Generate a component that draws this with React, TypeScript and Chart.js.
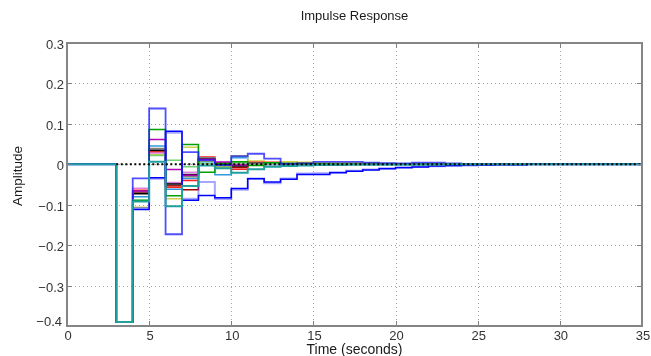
import React, { useEffect, useRef } from 'react';
import { Chart, registerables } from 'chart.js';

Chart.register(...registerables);

// ---- data ----
const TIME = [0, 1, 2, 3, 4, 5, 6, 7, 8, 9, 10, 11, 12, 13, 14, 15, 16, 17, 18, 19, 20, 21, 22, 23, 24, 25, 26, 27, 28, 29, 30, 31, 32, 33, 34, 35];

const TEAL = [0, 0, 0, -0.39, -0.092, 0.006, -0.104, -0.054, -0.003, -0.010, -0.021, -0.012, -0.006, -0.004, -0.003, -0.002, -0.002, -0.001, -0.001, -0.001, -0.001, -0.001, -0.001, 0, 0, 0, 0, 0, 0, 0, 0, 0, 0, 0, 0, 0];
const BLUE_OSC = [0, 0, 0, -0.39, -0.035, 0.138, -0.173, 0.030, 0.010, -0.002, 0.020, 0.026, 0.014, 0.001, 0.002, 0.006, 0.006, 0.006, 0.004, 0.003, 0.002, 0.004, 0.004, 0.002, 0.001, 0.001, 0.001, 0, 0, 0, 0, 0, 0, 0, 0, 0];
const BLUE_TAIL = [0, 0, 0, -0.39, -0.112, -0.033, 0.082, -0.089, -0.077, -0.083, -0.060, -0.036, -0.044, -0.037, -0.025, -0.025, -0.021, -0.017, -0.014, -0.011, -0.008, -0.007, -0.004, -0.003, -0.002, -0.002, -0.001, -0.001, 0, 0, 0, 0, 0, 0, 0, 0];
const BLUE_TAIL2 = [0, 0, 0, -0.39, -0.108, -0.036, 0.078, -0.085, -0.044, -0.086, -0.063, -0.035, -0.047, -0.035, -0.023, -0.022, -0.020, -0.016, -0.013, -0.010, -0.009, -0.006, -0.005, -0.004, -0.003, -0.002, -0.001, -0.001, 0, 0, 0, 0, 0, 0, 0, 0];
const GREEN = [0, 0, 0, -0.39, -0.090, 0.086, -0.078, 0.049, -0.020, 0.002, 0.006, -0.003, 0.004, 0.002, 0.001, 0.001, 0, 0, 0, 0, 0, 0, 0, 0, 0, 0, 0, 0, 0, 0, 0, 0, 0, 0, 0, 0];
const LIGHT_GREEN = [0, 0, 0, -0.39, -0.088, 0.022, 0.010, -0.006, 0.002, -0.004, 0.004, 0.000, 0.002, 0.001, 0, 0, 0, 0, 0, 0, 0, 0, 0, 0, 0, 0, 0, 0, 0, 0, 0, 0, 0, 0, 0, 0];
const PURPLE = [0, 0, 0, -0.39, -0.066, 0.061, -0.013, -0.027, 0.012, 0.005, -0.002, 0.001, 0.002, 0.001, 0, 0, 0, 0, 0, 0, 0, 0, 0, 0, 0, 0, 0, 0, 0, 0, 0, 0, 0, 0, 0, 0];
const PINK = [0, 0, 0, -0.39, -0.059, 0.028, -0.045, -0.020, 0.012, 0.006, 0.001, -0.002, 0.002, 0.001, 0, 0, 0, 0, 0, 0, 0, 0, 0, 0, 0, 0, 0, 0, 0, 0, 0, 0, 0, 0, 0, 0];
const BLACK = [0, 0, 0, -0.39, -0.073, 0.035, -0.048, -0.025, 0.013, 0.000, -0.004, 0.002, 0.003, 0.002, 0.002, 0.001, 0.001, 0, 0, 0, 0, 0, 0, 0, 0, 0, 0, 0, 0, 0, 0, 0, 0, 0, 0, 0];
const GRAY = [0, 0, 0, -0.39, -0.068, 0.039, -0.050, -0.031, 0.016, -0.002, -0.002, 0.003, 0.002, 0.001, 0, 0, 0, 0, 0, 0, 0, 0, 0, 0, 0, 0, 0, 0, 0, 0, 0, 0, 0, 0, 0, 0];
const RED = [0, 0, 0, -0.39, -0.064, 0.030, -0.057, -0.040, 0.018, -0.004, -0.012, 0.005, 0.005, 0.001, 0, 0, 0, 0, 0, 0, 0, 0, 0, 0, 0, 0, 0, 0, 0, 0, 0, 0, 0, 0, 0, 0];
const DARK_RED = [0, 0, 0, -0.39, -0.070, 0.033, -0.053, -0.063, 0.014, -0.002, -0.008, 0.004, 0.003, 0.001, 0, 0, 0, 0, 0, 0, 0, 0, 0, 0, 0, 0, 0, 0, 0, 0, 0, 0, 0, 0, 0, 0];
const YELLOW = [0, 0, 0, -0.39, -0.106, 0.024, -0.085, 0.042, 0.008, -0.008, 0.021, 0.008, 0.003, 0.006, 0.005, 0.003, 0.003, 0.004, 0.004, 0.002, 0.001, 0.001, 0.001, 0, 0, 0, 0, 0, 0, 0, 0, 0, 0, 0, 0, 0];
const SKY_BLUE = [0, 0, 0, -0.39, -0.080, 0.045, -0.062, -0.035, 0.006, -0.026, 0.016, 0.001, -0.005, 0.001, 0, 0, 0, 0, 0, 0, 0, 0, 0, 0, 0, 0, 0, 0, 0, 0, 0, 0, 0, 0, 0, 0];

const ZERO_LINE_T = [3, 35];
const ZERO_LINE_Y = [0, 0];

const X_TICKS = [0, 5, 10, 15, 20, 25, 30, 35];
const X_TICK_LABELS = ['0', '5', '10', '15', '20', '25', '30', '35'];
const Y_TICKS = [-0.4, -0.3, -0.2, -0.1, 0, 0.1, 0.2, 0.3];
const Y_TICK_LABELS = ['\u22120.4', '\u22120.3', '\u22120.2', '\u22120.1', '0', '0.1', '0.2', '0.3'];

const TITLE = 'Impulse Response';
const X_LABEL = 'Time (seconds)';
const Y_LABEL = 'Amplitude';

const FONT = '"Liberation Sans", Arial, Helvetica, sans-serif';

const pts = (vals: number[]) => TIME.map((t, i) => ({ x: t, y: vals[i] }));

const frame = {
  id: 'matlabFrame',
  beforeDatasetsDraw(chart: any) {
    const { ctx, chartArea: a, scales } = chart;
    const xs = scales.x, ys = scales.y;
    ctx.save();
    ctx.strokeStyle = '#a8a8a8';
    ctx.lineWidth = 1;
    ctx.setLineDash([1, 3]);
    X_TICKS.forEach((v) => {
      if (v <= 0 || v >= 35) return;
      const px = Math.round(xs.getPixelForValue(v)) + 0.5;
      ctx.beginPath();
      ctx.moveTo(px, a.top);
      ctx.lineTo(px, a.bottom);
      ctx.stroke();
    });
    Y_TICKS.forEach((v) => {
      if (v <= -0.4 || v >= 0.3) return;
      const py = Math.round(ys.getPixelForValue(v)) + 0.5;
      ctx.beginPath();
      ctx.moveTo(a.left, py);
      ctx.lineTo(a.right, py);
      ctx.stroke();
    });
    ctx.restore();
  },
  afterDatasetsDraw(chart: any) {
    const { ctx, chartArea: a, scales } = chart;
    const xs = scales.x, ys = scales.y;
    ctx.save();
    ctx.setLineDash([]);
    // inner ticks
    ctx.strokeStyle = '#808080';
    ctx.lineWidth = 1;
    X_TICKS.forEach((v) => {
      const px = Math.round(xs.getPixelForValue(v)) + 0.5;
      ctx.beginPath();
      ctx.moveTo(px, a.bottom);
      ctx.lineTo(px, a.bottom - 5);
      ctx.moveTo(px, a.top);
      ctx.lineTo(px, a.top + 5);
      ctx.stroke();
    });
    Y_TICKS.forEach((v) => {
      const py = Math.round(ys.getPixelForValue(v)) + 0.5;
      ctx.beginPath();
      ctx.moveTo(a.left, py);
      ctx.lineTo(a.left + 5, py);
      ctx.moveTo(a.right, py);
      ctx.lineTo(a.right - 5, py);
      ctx.stroke();
    });
    // box
    ctx.strokeStyle = '#858585';
    ctx.lineWidth = 2;
    ctx.strokeRect(a.left, a.top, a.right - a.left, a.bottom - a.top);

    // tick labels
    ctx.fillStyle = '#333333';
    ctx.font = `13px ${FONT}`;
    ctx.textAlign = 'center';
    ctx.textBaseline = 'alphabetic';
    X_TICKS.forEach((v, i) => {
      const px = xs.getPixelForValue(v);
      ctx.fillText(X_TICK_LABELS[i], px + 1, a.bottom + 14);
    });
    ctx.textAlign = 'right';
    Y_TICKS.forEach((v, i) => {
      const py = ys.getPixelForValue(v);
      const dx = i === 0 ? -2 : 0;
      const dy = i === 0 ? 0 : 6;
      ctx.fillText(Y_TICK_LABELS[i], a.left - 3 + dx, py + dy);
    });

    // titles
    ctx.fillStyle = '#1a1a1a';
    ctx.textAlign = 'center';
    ctx.font = `13px ${FONT}`;
    ctx.fillText(TITLE, (a.left + a.right) / 2, 20);
    ctx.font = `14px ${FONT}`;
    ctx.fillText(X_LABEL, (a.left + a.right) / 2, 354);
    ctx.save();
    ctx.translate(18, 176);
    ctx.rotate(-Math.PI / 2);
    ctx.font = `13.5px ${FONT}`;
    ctx.textBaseline = 'middle';
    ctx.fillText(Y_LABEL, 0, 0);
    ctx.restore();
    ctx.restore();
  },
};

export default function App() {
  const ref = useRef<HTMLCanvasElement>(null);

  useEffect(() => {
    const series: [number[], string, number][] = [
      [TEAL, '#22a0a0', 2],
      [BLUE_OSC, 'rgba(20,20,255,0.75)', 1.8],
      [BLUE_TAIL, '#0000ff', 1.5],
      [BLUE_TAIL2, 'rgba(80,80,255,0.5)', 2],
      [GREEN, '#00a000', 1.5],
      [LIGHT_GREEN, '#70d070', 1.5],
      [PURPLE, '#b000b0', 1.5],
      [PINK, '#e080e0', 1.5],
      [BLACK, '#000000', 1.5],
      [GRAY, '#808080', 1.5],
      [RED, '#ff2020', 1.5],
      [DARK_RED, '#a00000', 1.5],
      [YELLOW, 'rgba(200,200,40,0.85)', 1.5],
      [SKY_BLUE, '#3399dd', 1.5],
    ];
    const datasets: any[] = [
      {
        data: ZERO_LINE_T.map((t, i) => ({ x: t, y: ZERO_LINE_Y[i] })),
        borderColor: '#000000',
        borderWidth: 2,
        borderDash: [2, 2.5],
        pointRadius: 0,
        fill: false,
      },
      ...series.map(([vals, color, w]) => ({
        data: pts(vals),
        borderColor: color,
        borderWidth: w,
        stepped: true,
        pointRadius: 0,
        fill: false,
      })),
    ];

    const chart = new Chart(ref.current as HTMLCanvasElement, {
      type: 'line',
      data: { datasets },
      options: {
        animation: false,
        responsive: false,
        devicePixelRatio: 1,
        layout: { padding: { left: 67, right: 9, top: 43, bottom: 30 } },
        plugins: { legend: { display: false }, tooltip: { enabled: false }, title: { display: false } },
        scales: {
          x: { type: 'linear', min: 0, max: 35, display: false },
          y: { type: 'linear', min: -0.4, max: 0.3, display: false },
        },
        events: [],
      } as any,
      plugins: [frame],
    });
    return () => chart.destroy();
  }, []);

  return (
    <div style={{ position: 'fixed', left: 0, top: 0, width: 651, height: 356, background: '#ffffff' }}>
      <canvas ref={ref} width={651} height={356} style={{ display: 'block', width: 651, height: 356 }} />
    </div>
  );
}
